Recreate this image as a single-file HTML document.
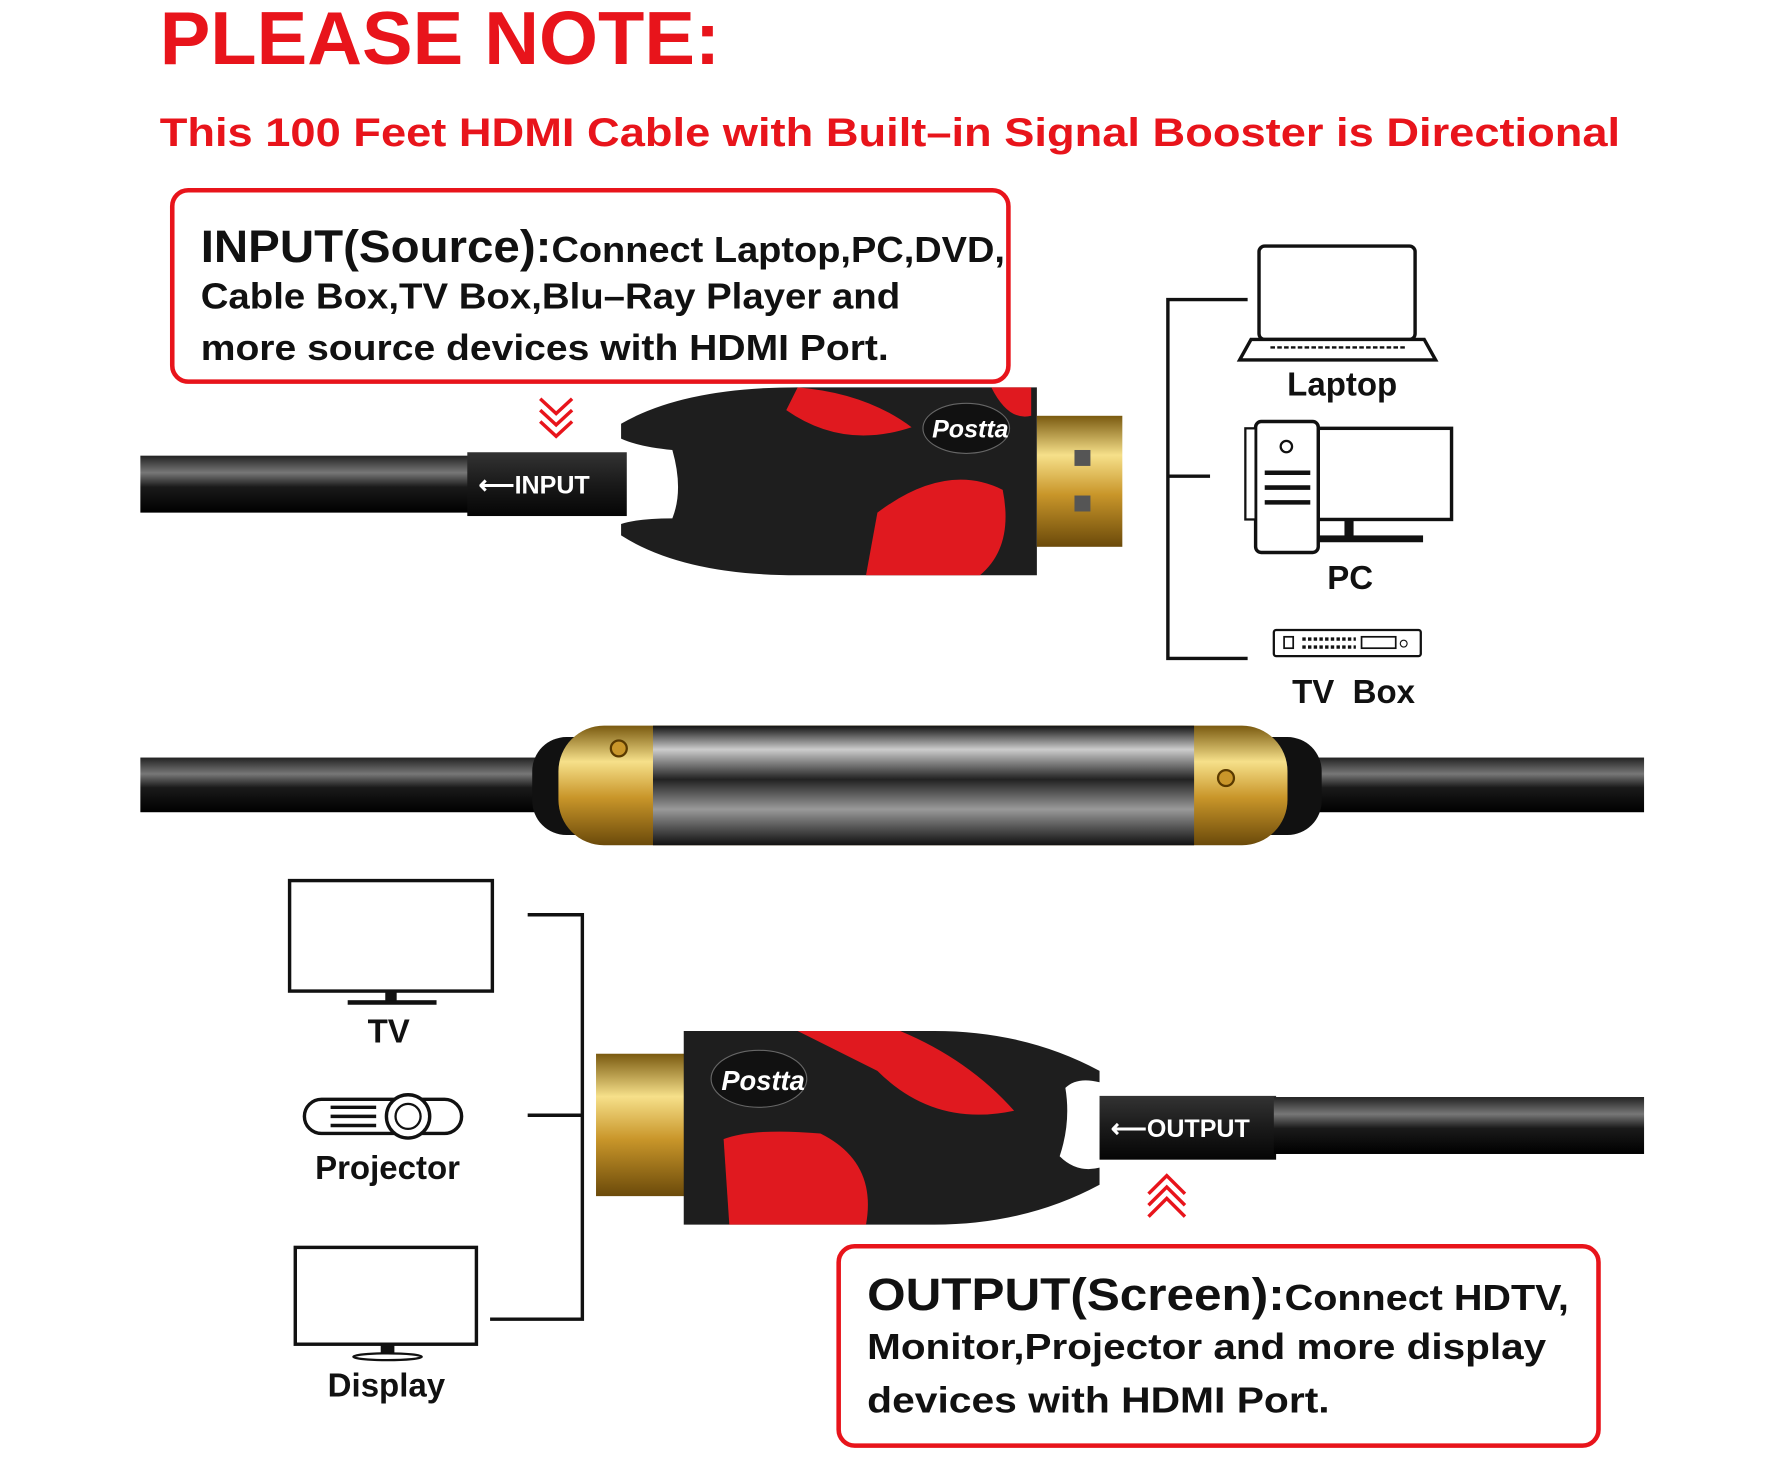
<!DOCTYPE html>
<html><head><meta charset="utf-8"><style>
html,body{margin:0;padding:0;background:#fff;}
svg{display:block;}
text{font-family:"Liberation Sans",sans-serif;font-weight:bold;}
</style></head><body>
<svg width="1781" height="1457" viewBox="0 0 1563 1279" xmlns="http://www.w3.org/2000/svg">
<defs>
<linearGradient id="cab" x1="0" y1="0" x2="0" y2="1">
<stop offset="0" stop-color="#222"/><stop offset="0.3" stop-color="#777"/><stop offset="0.55" stop-color="#1a1a1a"/><stop offset="1" stop-color="#000"/></linearGradient>
<linearGradient id="gold" x1="0" y1="0" x2="0" y2="1">
<stop offset="0" stop-color="#7a5a10"/><stop offset="0.3" stop-color="#f6e08a"/><stop offset="0.6" stop-color="#c9962a"/><stop offset="1" stop-color="#6b4a0a"/></linearGradient>
<linearGradient id="chrome" x1="0" y1="0" x2="0" y2="1">
<stop offset="0" stop-color="#111"/><stop offset="0.2" stop-color="#ccc"/><stop offset="0.45" stop-color="#222"/><stop offset="0.7" stop-color="#999"/><stop offset="1" stop-color="#111"/></linearGradient>
<linearGradient id="blk" x1="0" y1="0" x2="0" y2="1">
<stop offset="0" stop-color="#333"/><stop offset="0.5" stop-color="#1a1a1a"/><stop offset="1" stop-color="#050505"/></linearGradient>
</defs>

<text x="140" y="56" font-size="66" fill="#e8141b" textLength="492" lengthAdjust="spacingAndGlyphs">PLEASE NOTE:</text>
<text x="140" y="128" font-size="35" fill="#e8141b" textLength="1282" lengthAdjust="spacingAndGlyphs">This 100 Feet HDMI Cable with Built–in Signal Booster is Directional</text>

<rect x="151" y="167" width="734" height="168" rx="14" fill="none" stroke="#e8141b" stroke-width="4"/>
<text x="176" y="230" font-size="32" fill="#111" textLength="706" lengthAdjust="spacingAndGlyphs"><tspan font-size="40">INPUT(Source):</tspan>Connect Laptop,PC,DVD,</text>
<text x="176" y="271" font-size="32" fill="#111" textLength="614" lengthAdjust="spacingAndGlyphs">Cable Box,TV Box,Blu–Ray Player and</text>
<text x="176" y="316" font-size="32" fill="#111" textLength="604" lengthAdjust="spacingAndGlyphs">more source devices with HDMI Port.</text>

<g stroke="#e8141b" stroke-width="3" fill="none">
<polyline points="474,350 488,363 502,350"/><polyline points="474,360 488,373 502,360"/><polyline points="474,370 488,383 502,370"/></g>

<!-- top cable -->
<rect x="123" y="400" width="300" height="50" fill="url(#cab)"/>
<rect x="410" y="397" width="140" height="56" fill="url(#blk)"/>
<text x="420" y="433" font-size="22" fill="#fff">⟵INPUT</text>
<path d="M545,372 Q600,340 700,340 L910,340 L910,505 L700,505 Q600,505 545,470 L545,460 Q560,455 590,455 Q600,430 590,395 Q560,392 545,385 Z" fill="#1e1e1e"/>
<path d="M700,340 Q760,345 800,375 Q740,395 690,360 Z" fill="#e0191f"/>
<path d="M760,505 L860,505 Q890,480 880,430 Q830,405 770,450 Z" fill="#e0191f"/>
<path d="M870,340 L905,340 L905,365 Q885,370 870,340Z" fill="#e0191f"/>
<ellipse cx="848" cy="376" rx="38" ry="22" fill="#111" stroke="#666"/>
<text x="818" y="384" font-size="22" fill="#fff" font-family="Liberation Serif" font-style="italic">Postta</text>
<rect x="910" y="365" width="75" height="115" fill="url(#gold)"/>
<rect x="943" y="395" width="14" height="14" fill="#555"/><rect x="943" y="435" width="14" height="14" fill="#555"/>

<!-- right bracket -->
<polyline points="1095,263 1025,263 1025,578 1095,578" fill="none" stroke="#111" stroke-width="3"/>
<line x1="1025" y1="418" x2="1062" y2="418" stroke="#111" stroke-width="3"/>
<!-- laptop -->
<rect x="1105" y="216" width="137" height="82" rx="5" fill="#fff" stroke="#111" stroke-width="3"/>
<path d="M1098,298 L1250,298 L1260,316 L1088,316 Z" fill="#fff" stroke="#111" stroke-width="3"/>
<line x1="1115" y1="305" x2="1235" y2="305" stroke="#111" stroke-width="2" stroke-dasharray="4 2"/>
<text x="1178" y="347" font-size="29" fill="#111" text-anchor="middle">Laptop</text>
<!-- PC -->
<rect x="1157" y="376" width="117" height="80" fill="#fff" stroke="#111" stroke-width="3"/>
<rect x="1180" y="456" width="8" height="16" fill="#111"/><rect x="1157" y="470" width="92" height="6" fill="#111"/>
<rect x="1102" y="370" width="55" height="115" rx="5" fill="#fff" stroke="#111" stroke-width="3"/>
<rect x="1093" y="376" width="9" height="80" fill="#fff" stroke="#111" stroke-width="2"/>
<circle cx="1129" cy="392" r="5" fill="none" stroke="#111" stroke-width="2"/>
<g stroke="#111" stroke-width="4"><line x1="1110" y1="415" x2="1150" y2="415"/><line x1="1110" y1="428" x2="1150" y2="428"/><line x1="1110" y1="441" x2="1150" y2="441"/></g>
<text x="1185" y="517" font-size="29" fill="#111" text-anchor="middle">PC</text>
<!-- TV box -->
<rect x="1118" y="553" width="129" height="23" rx="2" fill="#fff" stroke="#111" stroke-width="2"/>
<rect x="1127" y="559" width="8" height="10" fill="none" stroke="#111" stroke-width="1.5"/>
<line x1="1143" y1="561" x2="1190" y2="561" stroke="#111" stroke-width="3" stroke-dasharray="3 2"/>
<line x1="1143" y1="568" x2="1190" y2="568" stroke="#111" stroke-width="3" stroke-dasharray="3 2"/>
<rect x="1195" y="559" width="30" height="10" fill="none" stroke="#111" stroke-width="1.5"/>
<circle cx="1232" cy="565" r="3" fill="none" stroke="#111"/>
<text x="1188" y="617" font-size="29" fill="#111" text-anchor="middle" xml:space="preserve">TV  Box</text>

<!-- middle cable + booster -->
<rect x="123" y="665" width="1320" height="48" fill="url(#cab)"/>
<rect x="467" y="647" width="693" height="86" rx="30" fill="#111"/>
<rect x="490" y="637" width="640" height="105" rx="40" fill="url(#gold)"/>
<rect x="573" y="637" width="475" height="105" fill="url(#chrome)"/>
<circle cx="543" cy="657" r="7" fill="#c9962a" stroke="#5a3a00" stroke-width="2"/>
<circle cx="1076" cy="683" r="7" fill="#c9962a" stroke="#5a3a00" stroke-width="2"/>

<!-- left bracket -->
<polyline points="463,803 511,803 511,1158 430,1158" fill="none" stroke="#111" stroke-width="3"/>
<line x1="463" y1="979" x2="511" y2="979" stroke="#111" stroke-width="3"/>
<!-- TV -->
<rect x="254" y="773" width="178" height="97" fill="#fff" stroke="#111" stroke-width="3"/>
<rect x="338" y="870" width="10" height="9" fill="#111"/><rect x="305" y="878" width="78" height="4" fill="#111"/>
<text x="341" y="915" font-size="29" fill="#111" text-anchor="middle">TV</text>
<!-- Projector -->
<rect x="267" y="965" width="138" height="30" rx="15" fill="#fff" stroke="#111" stroke-width="3"/>
<circle cx="358" cy="980" r="19" fill="#fff" stroke="#111" stroke-width="3"/><circle cx="358" cy="980" r="11" fill="none" stroke="#111" stroke-width="2"/>
<g stroke="#111" stroke-width="3"><line x1="290" y1="972" x2="330" y2="972"/><line x1="290" y1="980" x2="330" y2="980"/><line x1="290" y1="988" x2="330" y2="988"/></g>
<text x="340" y="1035" font-size="29" fill="#111" text-anchor="middle">Projector</text>
<!-- Display -->
<rect x="259" y="1095" width="159" height="85" fill="#fff" stroke="#111" stroke-width="3"/>
<rect x="334" y="1180" width="12" height="9" fill="#111"/><ellipse cx="340" cy="1191" rx="30" ry="3" fill="none" stroke="#111" stroke-width="2"/>
<text x="339" y="1226" font-size="29" fill="#111" text-anchor="middle">Display</text>

<!-- bottom connector -->
<rect x="523" y="925" width="80" height="125" fill="url(#gold)"/>
<path d="M600,905 L820,905 Q900,905 965,940 L965,950 Q945,945 935,955 Q940,985 930,1015 Q945,1030 965,1025 L965,1040 Q900,1075 820,1075 L600,1075 Z" fill="#1e1e1e"/>
<path d="M700,905 L790,905 Q850,930 890,975 Q820,990 770,940 Z" fill="#e0191f"/>
<path d="M640,1075 L760,1075 Q770,1020 720,995 Q660,990 635,1000 Z" fill="#e0191f"/>
<ellipse cx="666" cy="947" rx="42" ry="25" fill="#111" stroke="#666"/>
<text x="633" y="957" font-size="24" fill="#fff" font-family="Liberation Serif" font-style="italic">Postta</text>
<rect x="965" y="962" width="155" height="56" fill="url(#blk)"/>
<text x="975" y="998" font-size="22" fill="#fff">⟵OUTPUT</text>
<rect x="1118" y="963" width="325" height="50" fill="url(#cab)"/>

<g stroke="#e8141b" stroke-width="3" fill="none">
<polyline points="1008,1048 1024,1032 1040,1048"/><polyline points="1008,1058 1024,1042 1040,1058"/><polyline points="1008,1068 1024,1052 1040,1068"/></g>

<rect x="736" y="1094" width="667" height="175" rx="14" fill="none" stroke="#e8141b" stroke-width="4"/>
<text x="761" y="1150" font-size="32" fill="#111" textLength="616" lengthAdjust="spacingAndGlyphs"><tspan font-size="40">OUTPUT(Screen):</tspan>Connect HDTV,</text>
<text x="761" y="1193" font-size="32" fill="#111" textLength="596" lengthAdjust="spacingAndGlyphs">Monitor,Projector and more display</text>
<text x="761" y="1240" font-size="32" fill="#111" textLength="406" lengthAdjust="spacingAndGlyphs">devices with HDMI Port.</text>
</svg>
</body></html>
